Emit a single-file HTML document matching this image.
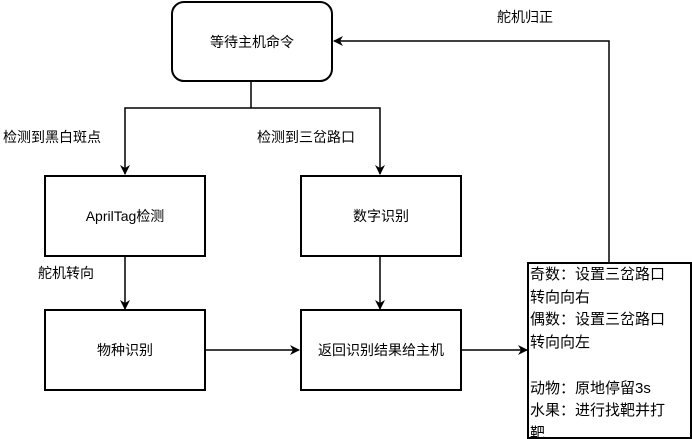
<!DOCTYPE html>
<html><head><meta charset="utf-8"><style>
html,body{margin:0;padding:0;background:#fff;}
body{width:692px;height:439px;overflow:hidden;position:relative;font-family:"Liberation Sans","Noto Sans CJK SC",sans-serif;}
svg{position:absolute;left:0;top:0;}
.box{position:absolute;border:2px solid #000;box-sizing:border-box;background:#fff;display:flex;align-items:center;justify-content:center;font-size:14px;}
.lbl{position:absolute;font-size:14px;white-space:nowrap;background:#fff;}
</style></head><body>
<svg width="692" height="439">
<defs><marker id="a" markerWidth="10" markerHeight="10" refX="9" refY="5" orient="auto" markerUnits="userSpaceOnUse"><path d="M0,0 L10,5 L0,10 L3,5 Z" fill="#000"/></marker></defs>
<g stroke="#000" stroke-width="1.5" fill="none">
<path d="M251,81 V108"/>
<path d="M251,108 H125 V174" marker-end="url(#a)"/>
<path d="M251,108 H380 V174" marker-end="url(#a)"/>
<path d="M125,256 V309" marker-end="url(#a)"/>
<path d="M380,256 V309" marker-end="url(#a)"/>
<path d="M206,350 H299" marker-end="url(#a)"/>
<path d="M461,350 H527" marker-end="url(#a)"/>
<path d="M609,263 V41 H334" marker-end="url(#a)"/>
</g>
</svg>
<div class="box" style="left:171px;top:1px;width:162px;height:81px;border-radius:13px;">等待主机命令</div>
<div class="box" style="left:44px;top:175px;width:162px;height:82px;">AprilTag检测</div>
<div class="box" style="left:300px;top:175px;width:162px;height:82px;">数字识别</div>
<div class="box" style="left:44px;top:309px;width:162px;height:82px;">物种识别</div>
<div class="box" style="left:300px;top:309px;width:162px;height:82px;">返回识别结果给主机</div>
<div class="box" style="left:527px;top:262px;width:165px;height:177px;display:block;font-size:15px;line-height:22.7px;padding-left:1px;overflow:hidden;">奇数：设置三岔路口<br>转向向右<br>偶数：设置三岔路口<br>转向向左<br><br>动物：原地停留3s<br>水果：进行找靶并打<br>靶</div>
<div class="lbl" style="left:3px;top:127px;">检测到黑白斑点</div>
<div class="lbl" style="left:257px;top:127px;">检测到三岔路口</div>
<div class="lbl" style="left:38px;top:263px;">舵机转向</div>
<div class="lbl" style="left:497px;top:7px;">舵机归正</div>
</body></html>
